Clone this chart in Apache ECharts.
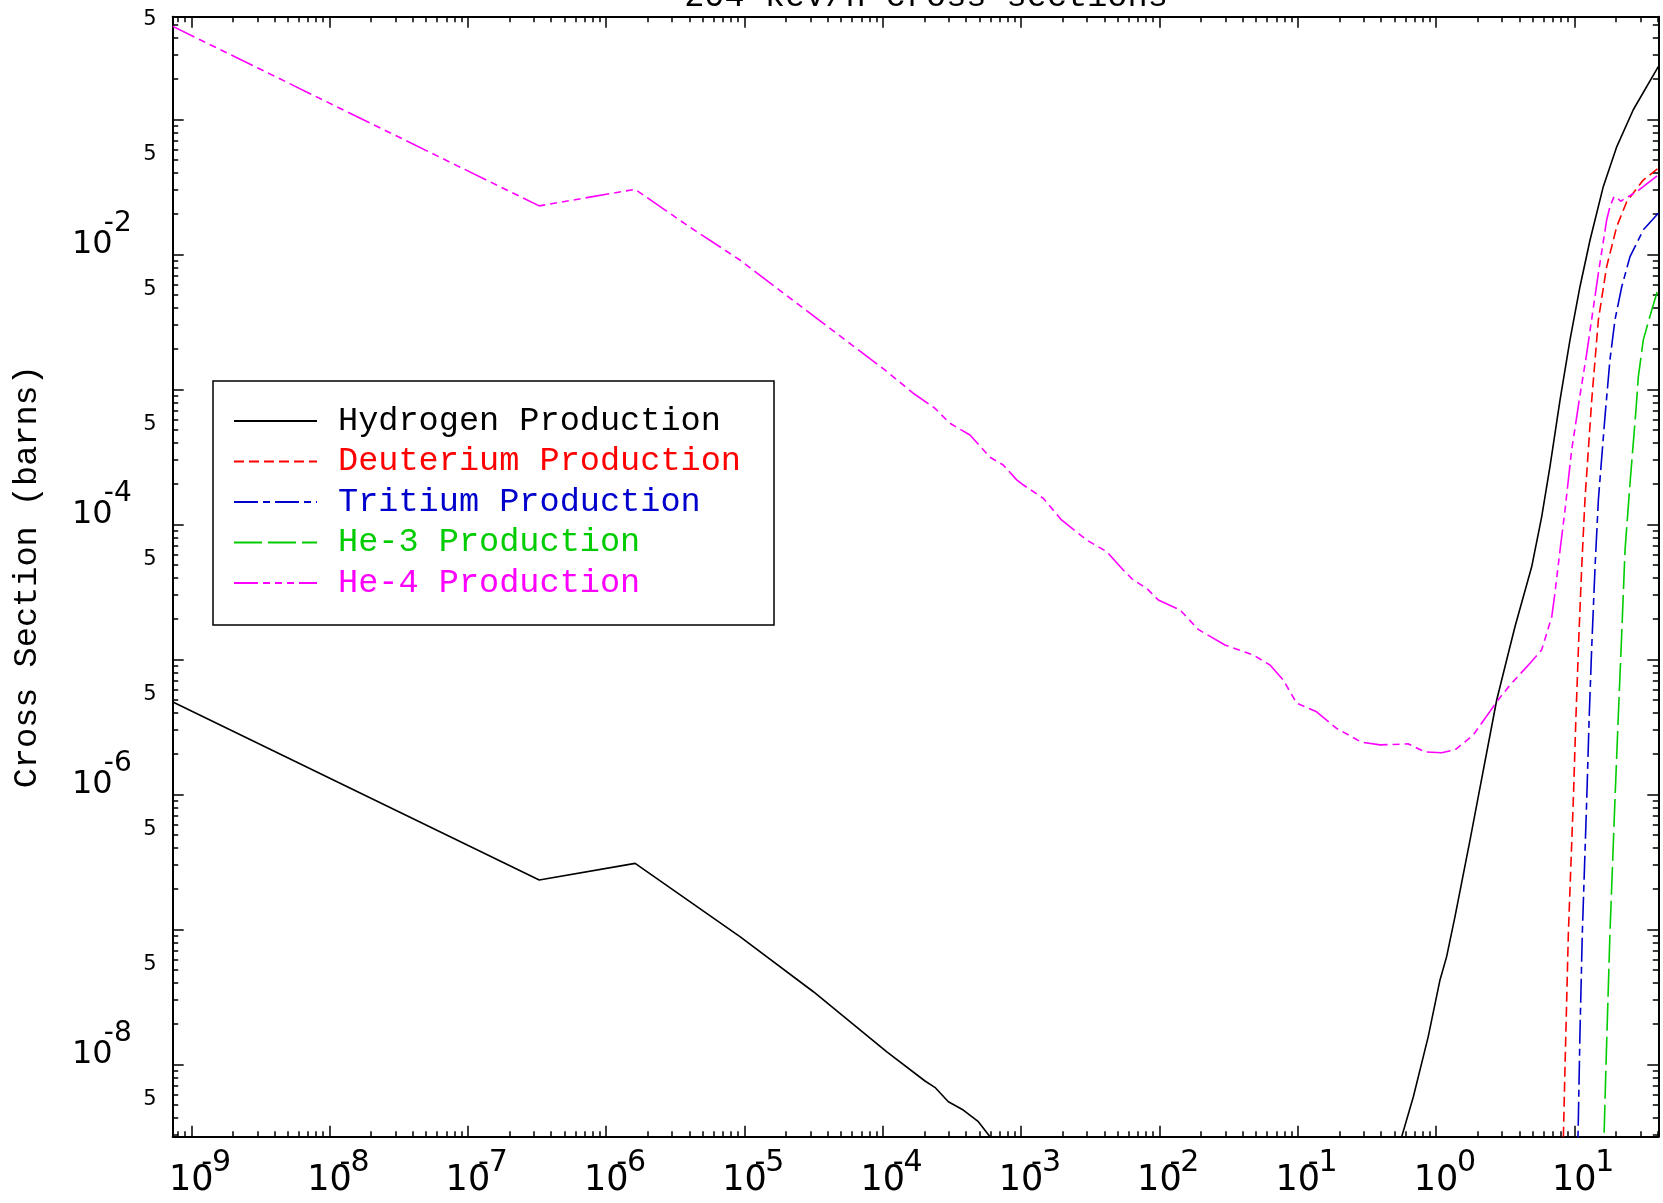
<!DOCTYPE html>
<html>
<head>
<meta charset="utf-8">
<script src="https://cdn.jsdelivr.net/npm/echarts@6/dist/echarts.min.js"></script>
<style>html,body{margin:0;padding:0;background:#fff}#chart{width:1663px;height:1203px}</style>
</head>
<body>
<div id="chart"></div>
<script>
// ---- data (energy in MeV, cross section in barns) ----
const hydrogenE  = [7.36e-10, 3.28e-7, 1.62e-6, 9.27e-6, 3.15e-5, 1.07e-4, 2.02e-4, 2.38e-4, 2.98e-4, 3.82e-4, 4.91e-4, 5.96e-4, 6.76e-4,
                    0.513, 0.565, 0.686, 0.879, 1.069, 1.194, 1.371, 1.762, 2.000, 2.748, 3.243, 3.724, 4.92, 5.81, 6.67, 7.89, 9.31, 10.99, 13.0, 16.2, 20.3, 26.7, 40.5];
const hydrogenXS = [4.84e-6, 2.33e-7, 3.09e-7, 8.85e-8, 3.46e-8, 1.24e-8, 7.55e-9, 6.78e-9, 5.30e-9, 4.60e-9, 3.77e-9, 2.92e-9, 1.58e-9,
                    1.58e-9, 2.92e-9, 5.77e-9, 1.61e-8, 4.23e-8, 6.30e-8, 1.24e-7, 4.60e-7, 9.10e-7, 5.01e-6, 9.91e-6, 1.75e-5, 4.86e-5, 1.14e-4, 2.68e-4, 8.36e-4, 2.33e-3, 5.77e-3, 1.28e-2, 3.18e-2, 6.30e-2, 0.118, 0.246];

const deuteriumE  = [8.24, 8.34, 8.57, 9.06, 9.84, 10.28, 10.81, 11.32, 11.94, 13.37, 14.93, 17.14, 20.28, 23.93, 31.55, 40.5];
const deuteriumXS = [1.75e-9, 2.92e-9, 9.64e-9, 9.38e-8, 9.10e-7, 3.77e-6, 1.56e-5, 4.86e-5, 1.52e-4, 8.36e-4, 3.27e-3, 8.13e-3, 1.61e-2, 2.46e-2, 3.56e-2, 4.35e-2];

const tritiumE  = [10.52, 10.64, 10.99, 11.43, 12.30, 12.82, 13.37, 14.13, 14.93, 16.67, 18.11, 19.68, 22.03, 25.29, 31.55, 40.5];
const tritiumXS = [1.75e-9, 2.92e-9, 1.70e-8, 9.38e-8, 9.10e-7, 3.77e-6, 1.24e-5, 4.86e-5, 1.52e-4, 6.30e-4, 1.66e-3, 3.27e-3, 5.77e-3, 9.64e-3, 1.52e-2, 2.02e-2];

const he3E  = [16.22, 16.41, 16.94, 18.11, 19.68, 20.80, 22.03, 23.28, 25.29, 27.93, 29.04, 31.55, 36.31, 40.5];
const he3XS = [1.75e-9, 2.92e-9, 9.64e-9, 9.38e-8, 9.10e-7, 3.77e-6, 1.56e-5, 6.47e-5, 2.02e-4, 7.05e-4, 1.24e-3, 2.33e-3, 3.88e-3, 5.62e-3];

const he4E  = [7.36e-10, 3.28e-7, 1.62e-6, 4.04e-6, 9.27e-6, 1.81e-5, 4.15e-5, 1.04e-4, 1.66e-4, 2.38e-4, 3.06e-4, 4.27e-4, 5.96e-4, 7.43e-4, 9.29e-4,
               1.04e-3, 1.45e-3, 1.96e-3, 2.98e-3, 4.16e-3, 5.48e-3, 6.47e-3, 8.09e-3, 9.82e-3, 1.41e-2, 1.91e-2, 2.98e-2, 4.78e-2, 6.31e-2, 7.87e-2, 9.84e-2,
               0.137, 0.191, 0.290, 0.394, 0.631, 0.832, 1.099, 1.371, 1.862, 2.748, 3.428, 4.786, 5.81, 6.32, 6.87, 7.24, 7.89, 8.57, 9.57,
               10.86, 12.30, 14.93, 17.14, 18.11, 19.36, 20.28, 21.63, 28.25, 40.5];
const he4XS = [0.489, 2.29e-2, 3.04e-2, 1.59e-2, 9.10e-3, 5.40e-3, 2.84e-3, 1.39e-3, 9.38e-4, 7.26e-4, 5.62e-4, 4.60e-4, 3.15e-4, 2.76e-4, 2.14e-4,
               1.96e-4, 1.56e-4, 1.08e-4, 7.67e-5, 6.30e-5, 4.60e-5, 3.88e-5, 3.37e-5, 2.76e-5, 2.33e-5, 1.67e-5, 1.28e-5, 1.08e-5, 9.10e-6, 7.05e-6, 4.74e-6,
               4.10e-6, 3.09e-6, 2.44e-6, 2.33e-6, 2.37e-6, 2.07e-6, 2.04e-6, 2.14e-6, 2.76e-6, 4.86e-6, 6.47e-6, 9.38e-6, 1.18e-5, 1.56e-5, 2.07e-5, 3.09e-5, 6.47e-5, 1.28e-4, 3.56e-4,
               8.36e-4, 1.85e-3, 7.26e-3, 1.80e-2, 2.26e-2, 2.68e-2, 2.65e-2, 2.48e-2, 2.92e-2, 3.88e-2];

const seriesNames = ['Hydrogen Production', 'Deuterium Production', 'Tritium Production', 'He-3 Production', 'He-4 Production'];
const chartTitle = '204 keV/n cross sections';
const yTitle = 'Cross Section (barns)';

// ---- axes ----
const X_MIN = 7.34e-10, X_MAX = 40.5;
const Y_MIN = 2.92e-9,  Y_MAX = 0.577;
const xMajorTicks = [1e-9, 1e-8, 1e-7, 1e-6, 1e-5, 1e-4, 1e-3, 1e-2, 1e-1, 1e0, 1e1];
const yMajorTicks = [1e-8, 1e-7, 1e-6, 1e-5, 1e-4, 1e-3, 1e-2, 1e-1];
const yPowerLabels = [1e-8, 1e-6, 1e-4, 1e-2];
const yFiveLabels = [5e-9, 5e-8, 5e-7, 5e-6, 5e-5, 5e-4, 5e-3, 5e-2, 5e-1];
const minorMantissas = [2, 3, 4, 5, 6, 7, 8, 9];

function minorTicks(lo, hi) {
  const out = [];
  for (let e = -11; e <= 2; e++) {
    for (const m of minorMantissas) {
      const v = m * Math.pow(10, e);
      if (v > lo && v < hi) out.push(v);
    }
  }
  return out;
}
const xMinorTicks = minorTicks(X_MIN, X_MAX);
const yMinorTicks = minorTicks(Y_MIN, Y_MAX);

function pairs(xs, ys) { return xs.map((x, i) => [x, ys[i]]); }
function expOf(v) { return Math.round(Math.log10(v)); }

const NUM_FONT = 'DejaVu Sans';
const MONO_FONT = 'Liberation Mono';

const tickLine = { color: '#000', width: 1.5 };
const frameLine = { show: true, onZero: false, lineStyle: { color: '#000', width: 2 } };
const noLine = { show: false, onZero: false };
const off = { splitLine: { show: false }, minorTick: { show: false }, minorSplitLine: { show: false } };

function tickAxis(kind, pos, major) {
  const isX = kind === 'x';
  return Object.assign({
    type: 'log', logBase: 10, position: pos, gridIndex: 0,
    min: isX ? X_MIN : Y_MIN, max: isX ? X_MAX : Y_MAX,
    axisLine: major ? frameLine : noLine,
    axisTick: { show: true, inside: true, length: major ? 11 : 5.5,
                customValues: major ? (isX ? xMajorTicks : yMajorTicks) : (isX ? xMinorTicks : yMinorTicks),
                lineStyle: tickLine },
    axisLabel: { show: false }
  }, off);
}
function labelAxis(kind, pos, label) {
  const isX = kind === 'x';
  return Object.assign({
    type: 'log', logBase: 10, position: pos, gridIndex: 0,
    min: isX ? X_MIN : Y_MIN, max: isX ? X_MAX : Y_MAX,
    axisLine: noLine, axisTick: { show: false },
    axisLabel: Object.assign({ show: true, color: '#000' }, label)
  }, off);
}

// x: base "10" centred on the tick, exponent to its upper right
const xBaseLabels = labelAxis('x', 'bottom', {
  customValues: xMajorTicks, formatter: () => '10', margin: 27,
  fontFamily: NUM_FONT, fontSize: 35, lineHeight: 35
});
const xExpLabels = labelAxis('x', 'bottom', {
  customValues: xMajorTicks, margin: 12, align: 'left',
  formatter: v => { const e = expOf(v); return e < 0 ? '{n|-' + (-e) + '}' : '{p|' + e + '}'; },
  rich: {
    n: { fontFamily: NUM_FONT, fontSize: 30, lineHeight: 30, color: '#000', padding: [0, 0, 0, 10] },
    p: { fontFamily: NUM_FONT, fontSize: 30, lineHeight: 30, color: '#000', padding: [0, 0, 0, 21] }
  }
});

// y: "10" and exponent for even decades, "5" at 5 x 10^k
const yBaseLabels = labelAxis('y', 'left', {
  customValues: yPowerLabels, formatter: () => '{b|10}', margin: 60,
  rich: { b: { fontFamily: NUM_FONT, fontSize: 32, lineHeight: 32, color: '#000', padding: [0, 0, 19, 0] } }
});
const yExpLabels = labelAxis('y', 'left', {
  customValues: yPowerLabels, formatter: v => '{s|-' + (-expOf(v)) + '}', margin: 41,
  rich: { s: { fontFamily: NUM_FONT, fontSize: 28, lineHeight: 28, color: '#000', padding: [0, 0, 61, 0] } }
});
const yFiveAxis = labelAxis('y', 'left', {
  customValues: yFiveLabels, formatter: () => '{f|5}', margin: 16,
  rich: { f: { fontFamily: NUM_FONT, fontSize: 21, lineHeight: 21, color: '#000', padding: [0, 0, 12, 0] } }
});

const yMain = tickAxis('y', 'left', true);
yMain.name = yTitle;
yMain.nameLocation = 'middle';
yMain.nameRotate = 90;
yMain.nameGap = 129;
yMain.nameTextStyle = { fontFamily: MONO_FONT, fontSize: 33.6, color: '#000' };

const colors = ['#000000', '#ff0000', '#0000cc', '#00cc00', '#ff00ff'];
const dashes = ['solid', [10, 5], [24, 5, 7, 5], [28, 6], [24, 5, 7, 5, 7, 5, 7, 5]];
const seriesData = [pairs(hydrogenE, hydrogenXS), pairs(deuteriumE, deuteriumXS), pairs(tritiumE, tritiumXS), pairs(he3E, he3XS), pairs(he4E, he4XS)];

const option = {
  animation: false,
  backgroundColor: '#fff',
  title: {
    text: chartTitle,
    left: 921, top: -25, textAlign: 'center',
    textStyle: { fontFamily: MONO_FONT, fontSize: 33.6, fontWeight: 'normal', color: '#000' }
  },
  grid: { left: 172.7, right: 4.7, top: 16.7, bottom: 66.3, containLabel: false },
  xAxis: [tickAxis('x', 'bottom', true), tickAxis('x', 'bottom', false), tickAxis('x', 'top', true), tickAxis('x', 'top', false), xBaseLabels, xExpLabels],
  yAxis: [yMain, tickAxis('y', 'left', false), tickAxis('y', 'right', true), tickAxis('y', 'right', false), yBaseLabels, yExpLabels, yFiveAxis],
  legend: {
    orient: 'vertical', left: 213, top: 381,
    padding: [23, 33, 25, 20],
    itemWidth: 83, itemHeight: 14, itemGap: 6.5,
    backgroundColor: '#fff', borderColor: '#000', borderWidth: 1.5,
    selectedMode: false,
    itemStyle: { opacity: 0, borderWidth: 0 },
    textStyle: { fontFamily: MONO_FONT, fontSize: 33.6, lineHeight: 34, padding: [0, 0, 0, 16] },
    data: seriesNames.map((n, i) => ({ name: n, textStyle: { color: colors[i] } }))
  },
  series: seriesNames.map((n, i) => ({
    name: n, type: 'line', xAxisIndex: 0, yAxisIndex: 0,
    data: seriesData[i], showSymbol: false, symbol: 'none', clip: true,
    lineStyle: { color: colors[i], width: 1.6, type: dashes[i] },
    itemStyle: { color: colors[i] },
    emphasis: { disabled: true }
  }))
};

const chart = echarts.init(document.getElementById('chart'), null, { renderer: 'canvas' });
chart.setOption(option);
</script>
</body>
</html>
